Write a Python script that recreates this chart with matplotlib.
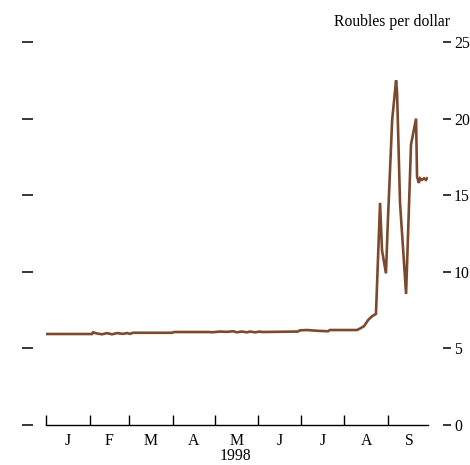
import matplotlib
matplotlib.use("Agg")
import matplotlib.pyplot as plt
import matplotlib.transforms as mtransforms

plt.rcParams['font.family'] = ['Liberation Serif', 'DejaVu Serif']

# day of 1998 (0 = 1 Jan) and roubles per dollar
days = [0.7, 32.7, 33.4, 36.0, 39.8, 43.4, 46.9, 50.5, 54.7, 57.6, 59.7, 61.8,
        89.6, 91.0, 116.6, 118.0, 123.7, 128.6, 133.0, 135.7, 139.0, 142.9,
        145.0, 148.5, 152.0, 153.5, 179.0, 180.5, 185.5, 192.6, 200.4, 201.8,
        221.0, 223.2, 226.0, 228.9, 231.7, 234.5, 237.4, 238.8, 241.6, 243.0,
        246.0, 248.8, 249.5, 251.6, 255.9, 259.4, 263.0, 263.7, 265.0, 265.8,
        267.2, 268.7, 270.0, 270.8]
rate = [5.94, 5.94, 6.05, 5.98, 5.92, 6.00, 5.92, 6.00, 5.95, 6.00, 5.95, 6.02,
        6.02, 6.07, 6.07, 6.05, 6.10, 6.08, 6.12, 6.05, 6.10, 6.05,
        6.10, 6.05, 6.10, 6.07, 6.10, 6.18, 6.20, 6.15, 6.12, 6.20,
        6.20, 6.30, 6.45, 6.85, 7.10, 7.25, 14.5, 11.4, 9.9, 13.4,
        19.9, 22.5, 21.7, 14.5, 8.55, 18.3, 20.0, 16.2, 15.8, 16.1,
        16.0, 16.1, 16.0, 16.1]

month_starts = [0, 31, 59, 90, 120, 151, 181, 212, 243]
month_names = ['J', 'F', 'M', 'A', 'M', 'J', 'J', 'A', 'S']
x_end = 271.5
y_ticks = [0, 5, 10, 15, 20, 25]

fs = 11.3

fig = plt.figure(figsize=(4.7, 4.65), dpi=100)
ax = fig.add_axes([0.0979, 0.086, 0.8128, 0.8237])

ax.plot(days, rate, color='#7B4A2E', lw=1.9, solid_joinstyle='miter')

ax.set_xlim(0, x_end)
ax.set_ylim(0, 25)
ax.spines['top'].set_visible(False)
ax.spines['bottom'].set_linewidth(1.0)

# y scale: loose dashes away from the plot, numbers on the right only
ax.spines['left'].set_position(('outward', 9.5))
ax.spines['right'].set_position(('outward', 11))
ax.spines['left'].set_visible(False)
ax.spines['right'].set_visible(False)
ax.set_yticks(y_ticks)
ax.tick_params(axis='y', which='both', left=True, right=True,
               labelleft=False, labelright=True,
               direction='out', length=5.5, width=1.1, pad=2.2,
               labelsize=fs)
for t in ax.yaxis.get_major_ticks():
    t.tick1line.set_markersize(8.2)

ax.set_xticks(month_starts)
ax.set_xticklabels([])
ax.tick_params(axis='x', direction='in', length=7.5, width=1.0)

# month letters centred in each month
bounds = month_starts + [month_starts[-1] + 30]
xt = mtransforms.blended_transform_factory(ax.transData, ax.transAxes)
for i, name in enumerate(month_names):
    mid = (bounds[i] + bounds[i + 1]) / 2
    ax.text(mid, -0.022, name, transform=xt, ha='center', va='top', fontsize=fs)
ax.text(0.495, -0.061, '1998', transform=ax.transAxes, ha='center', va='top',
        fontsize=fs)

yt = mtransforms.blended_transform_factory(ax.transAxes, ax.transData)
ax.text(1.058, 26.3, 'Roubles per dollar', transform=yt, ha='right',
        va='center', fontsize=fs)

fig.savefig('out.png', dpi=100)
